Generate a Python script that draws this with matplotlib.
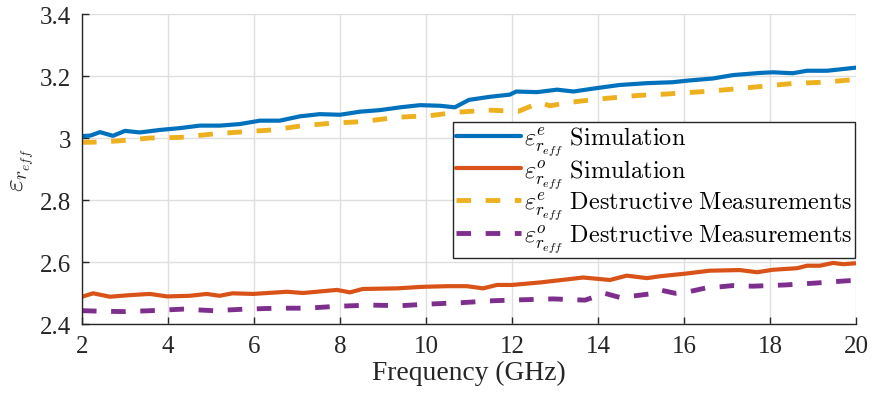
import matplotlib
matplotlib.use("Agg")
import matplotlib.pyplot as plt

# Even-mode / odd-mode effective permittivity vs. frequency
freq_sim_e = [2.0, 2.2, 2.42, 2.72, 3.0, 3.35, 3.81, 4.28, 4.74, 5.21, 5.67, 6.14, 6.6,
              7.07, 7.53, 8.0, 8.47, 8.93, 9.4, 9.86, 10.33, 10.67, 11.0, 11.49, 11.95,
              12.1, 12.58, 13.05, 13.43, 13.97, 14.5, 15.14, 15.74, 16.07, 16.67, 17.14,
              17.77, 18.07, 18.53, 18.86, 19.33, 19.93, 20.0]
eps_sim_e = [3.006, 3.008, 3.019, 3.007, 3.023, 3.018, 3.026, 3.032, 3.040, 3.040, 3.045,
             3.056, 3.056, 3.070, 3.077, 3.075, 3.085, 3.090, 3.099, 3.106, 3.104, 3.099,
             3.123, 3.133, 3.140, 3.150, 3.148, 3.156, 3.150, 3.161, 3.171, 3.177, 3.180,
             3.185, 3.192, 3.203, 3.210, 3.212, 3.209, 3.217, 3.217, 3.226, 3.227]

freq_sim_o = [2.0, 2.26, 2.65, 3.1, 3.58, 3.98, 4.51, 4.9, 5.2, 5.5, 5.98, 6.77, 7.14,
              7.93, 8.23, 8.53, 9.33, 9.93, 10.5, 10.95, 11.33, 11.65, 12.0, 12.65, 13.35,
              13.65, 14.28, 14.67, 15.14, 15.44, 16.07, 16.6, 17.3, 17.7, 18.07, 18.63,
              18.86, 19.16, 19.47, 19.7, 20.0]
eps_sim_o = [2.488, 2.499, 2.488, 2.493, 2.497, 2.489, 2.491, 2.497, 2.491, 2.499, 2.497,
             2.504, 2.500, 2.510, 2.502, 2.513, 2.515, 2.520, 2.522, 2.522, 2.515, 2.526,
             2.526, 2.534, 2.545, 2.550, 2.542, 2.556, 2.548, 2.554, 2.563, 2.572, 2.574,
             2.567, 2.575, 2.580, 2.588, 2.588, 2.597, 2.593, 2.596]

freq_meas_e = [2.0, 2.4, 2.88, 3.58, 4.28, 5.05, 5.74, 6.44, 7.14, 7.84, 8.53, 9.33, 10.09,
               10.7, 11.45, 12.15, 12.65, 12.88, 13.35, 13.65, 14.2, 14.9, 15.6, 16.37,
               17.0, 17.77, 18.53, 19.23, 19.93, 20.0]
eps_meas_e = [2.986, 2.987, 2.991, 3.000, 3.002, 3.013, 3.020, 3.026, 3.040, 3.048, 3.053,
              3.067, 3.072, 3.083, 3.090, 3.086, 3.115, 3.104, 3.115, 3.120, 3.128, 3.137,
              3.142, 3.149, 3.156, 3.166, 3.176, 3.180, 3.188, 3.189]

freq_meas_o = [2.0, 2.5, 3.0, 3.6, 4.35, 5.05, 5.8, 6.55, 7.25, 7.9, 8.7, 9.4, 10.1, 10.85,
               11.55, 12.2, 12.95, 13.7, 14.16, 14.5, 14.86, 15.2, 15.44, 15.8, 16.14, 16.5,
               16.84, 17.14, 17.6, 18.35, 19.05, 19.75, 20.0]
eps_meas_o = [2.443, 2.441, 2.440, 2.443, 2.448, 2.443, 2.448, 2.451, 2.451, 2.457, 2.461,
              2.459, 2.4645, 2.469, 2.475, 2.478, 2.481, 2.477, 2.499, 2.486, 2.491, 2.497,
              2.510, 2.499, 2.505, 2.516, 2.520, 2.524, 2.522, 2.526, 2.532, 2.539, 2.541]

x_ticks = [2, 4, 6, 8, 10, 12, 14, 16, 18, 20]
y_ticks = [2.4, 2.6, 2.8, 3.0, 3.2, 3.4]
y_tick_labels = ["2.4", "2.6", "2.8", "3", "3.2", "3.4"]

labels = [r"$\varepsilon^{e}_{r_{eff}}\ \mathrm{Simulation}$",
          r"$\varepsilon^{o}_{r_{eff}}\ \mathrm{Simulation}$",
          r"$\varepsilon^{e}_{r_{eff}}\ \mathrm{Destructive\ Measurements}$",
          r"$\varepsilon^{o}_{r_{eff}}\ \mathrm{Destructive\ Measurements}$"]

plt.rcParams["font.family"] = ["Liberation Serif", "DejaVu Serif"]
plt.rcParams["mathtext.fontset"] = "cm"

ink = "#262626"
fig = plt.figure(figsize=(8.72, 4.06), dpi=100)
ax = fig.add_axes([0.094, 0.1995, 0.8876, 0.7635])

dash = (0, (3.0, 3.0))
ax.plot(freq_sim_e, eps_sim_e, color="#0072BD", lw=3.0, label=labels[0],
        solid_capstyle="round", solid_joinstyle="round")
ax.plot(freq_sim_o, eps_sim_o, color="#D95319", lw=3.0, label=labels[1],
        solid_capstyle="round", solid_joinstyle="round")
ax.plot(freq_meas_e, eps_meas_e, color="#EDB120", lw=3.5, ls=dash, label=labels[2])
ax.plot(freq_meas_o, eps_meas_o, color="#7E2F8E", lw=3.5, ls=dash, label=labels[3])

ax.set_xlim(2, 20)
ax.set_ylim(2.4, 3.4)
ax.set_xticks(x_ticks)
ax.set_yticks(y_ticks)
ax.set_yticklabels(y_tick_labels)
ax.grid(True, color="#dfdfdf", lw=1.0)
ax.set_axisbelow(True)
for side in ("top", "right"):
    ax.spines[side].set_visible(False)
for side in ("left", "bottom"):
    ax.spines[side].set_color(ink)
    ax.spines[side].set_linewidth(1.0)
ax.tick_params(direction="in", length=5, width=1.0, colors=ink, labelsize=18, pad=8)

ax.set_xlabel("Frequency (GHz)", fontsize=19.8, color=ink, labelpad=2)
ax.set_ylabel(r"$\varepsilon_{r_{eff}}$", fontsize=19.8, color=ink, labelpad=2)

leg = ax.legend(loc="upper right", bbox_to_anchor=(0.999, 0.652), borderaxespad=0,
                fontsize=17.5, frameon=True, fancybox=False, framealpha=1,
                edgecolor=ink, handlelength=2.7, handletextpad=0.12,
                labelspacing=0.0, borderpad=0.12)
leg.get_frame().set_linewidth(1.0)

fig.savefig("out.png", dpi=100)
